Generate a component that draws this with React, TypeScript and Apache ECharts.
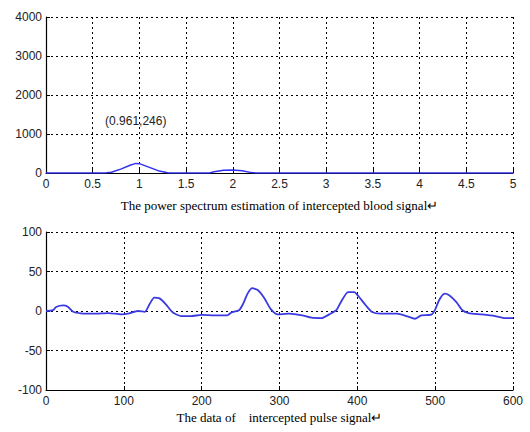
import React, { useEffect, useRef } from "react";
import * as echarts from "echarts";

const spectrumX = [0, 0.1, 0.2, 0.3, 0.4, 0.5, 0.6, 0.65, 0.7, 0.8, 0.9, 0.961, 1.0, 1.1, 1.2, 1.3, 1.35, 1.5, 1.7, 1.75, 1.8, 1.9, 2.0, 2.1, 2.2, 2.25, 2.5, 3, 3.5, 4, 4.5, 5];
const spectrumY = [0, 0, 0, 0, 0, 0, 2, 5, 20, 100, 200, 246, 240, 150, 60, 5, 0, 0, 0, 2, 30, 70, 75, 60, 10, 0, 0, 0, 0, 0, 0, 0];

const pulseX = [0, 9, 13, 22, 28, 35, 45, 62, 80, 97, 107, 118, 127, 133, 139, 146, 154, 163, 174, 186, 200, 216, 233, 238, 248, 253, 259, 265, 272, 280, 289, 297, 312, 329, 341, 354, 364, 373, 379, 388, 396, 402, 411, 419, 430, 451, 463, 474, 482, 495, 500, 505, 512, 518, 527, 535, 543, 560, 577, 590, 600];
const pulseY = [0, 1, 5, 7, 5.5, -1, -3, -3.4, -2.6, -4.3, -3, 0, -1, 8.5, 17, 16, 8.5, -2, -6.4, -6.4, -5, -5.5, -5.5, -2, 1, 8.5, 22, 29, 26.5, 17, 2, -4.3, -3.4, -5.5, -8.5, -9, -4.3, 1, 11.5, 24, 24, 18, 7, -1.3, -3.4, -3.4, -6.4, -9.8, -5.5, -4.7, 1.7, 13.7, 22, 20, 11.5, 1, -2.6, -4.3, -6.4, -9, -9];

const topXTicks = [0, 0.5, 1, 1.5, 2, 2.5, 3, 3.5, 4, 4.5, 5];
const topYTicks = [0, 1000, 2000, 3000, 4000];
const bottomXTicks = [0, 100, 200, 300, 400, 500, 600];
const bottomYTicks = [-100, -50, 0, 50, 100];

const topTitle = "The power spectrum estimation of intercepted blood signal\u21b5";
const bottomTitle = "The data of    intercepted pulse signal\u21b5";
const peakLabel = "(0.961,246)";

export default function App() {
  const ref = useRef<HTMLDivElement>(null);
  useEffect(() => {
    if (!ref.current) return;
    const chart = echarts.init(ref.current, null, { renderer: "svg" });
    const tickFont = { fontFamily: "Liberation Sans, Arial, sans-serif", fontSize: 12, color: "#222" };
    const axisLine = { show: true, onZero: false, lineStyle: { color: "#000", width: 1.2 } };
    const split = { show: true, lineStyle: { color: "#000", type: [2, 3] as any, width: 1 } };
    const nameStyle = { fontFamily: "Liberation Serif, Times New Roman, serif", fontSize: 13, color: "#000" };
    const fmt = (v: number) => String(v);
    const xCommon = (min: number, max: number, interval: number, gridIndex: number, name: string, gap: number) => ({
      type: "value",
      gridIndex,
      min,
      max,
      interval,
      name,
      nameLocation: "middle",
      nameGap: gap,
      nameTextStyle: nameStyle,
      axisLine,
      axisTick: { show: true, inside: true, length: 4, lineStyle: { color: "#000" } },
      axisLabel: { ...tickFont, margin: 5, showMaxLabel: true, showMinLabel: true, formatter: fmt },
      splitLine: split,
    });
    const yCommon = (min: number, max: number, interval: number, gridIndex: number) => ({
      type: "value",
      gridIndex,
      min,
      max,
      interval,
      axisLine,
      axisTick: { show: true, inside: true, length: 4, lineStyle: { color: "#000" } },
      axisLabel: { ...tickFont, margin: 4, formatter: fmt },
      splitLine: split,
    });
    chart.setOption({
      animation: false,
      backgroundColor: "#fff",
      grid: [
        { left: 46, top: 17, width: 467, height: 156 },
        { left: 46, top: 232, width: 467, height: 158 },
      ],
      xAxis: [
        xCommon(topXTicks[0], topXTicks[topXTicks.length - 1], 0.5, 0, topTitle, 26),
        xCommon(bottomXTicks[0], bottomXTicks[bottomXTicks.length - 1], 100, 1, bottomTitle, 21),
      ],
      yAxis: [
        yCommon(topYTicks[0], topYTicks[topYTicks.length - 1], 1000, 0),
        yCommon(bottomYTicks[0], bottomYTicks[bottomYTicks.length - 1], 50, 1),
      ],
      series: [
        {
          type: "line",
          xAxisIndex: 0,
          yAxisIndex: 0,
          data: spectrumX.map((x, i) => [x, spectrumY[i]]),
          showSymbol: false,
          lineStyle: { color: "#3030f0", width: 1.5 },
          markPoint: {
            symbol: "circle",
            symbolSize: 0,
            data: [{ coord: [0.961, 246] }],
            label: {
              show: true,
              formatter: peakLabel,
              position: "inside",
              offset: [0, -42],
              ...tickFont,
            },
          },
        },
        {
          type: "line",
          xAxisIndex: 1,
          yAxisIndex: 1,
          data: pulseX.map((x, i) => [x, pulseY[i]]),
          showSymbol: false,
          smooth: 0.2,
          lineStyle: { color: "#3a3ae0", width: 1.8 },
        },
      ],
    });
    return () => chart.dispose();
  }, []);
  return <div ref={ref} style={{ position: "absolute", left: 0, top: 0, width: 530, height: 432 }} />;
}
